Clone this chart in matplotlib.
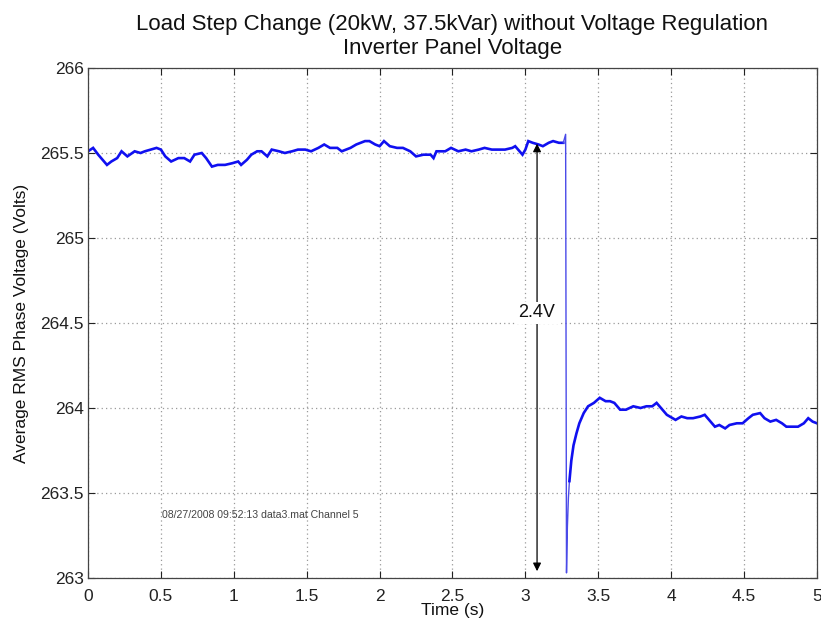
import matplotlib
matplotlib.use("Agg")
import matplotlib.pyplot as plt

plt.rcParams["font.family"] = ["Liberation Sans", "DejaVu Sans"]

# Panel voltage before the load step (time s, volts)
t_before = [0.00, 0.035, 0.07, 0.13, 0.16, 0.20, 0.23, 0.27, 0.32, 0.36, 0.39, 0.43,
            0.47, 0.50, 0.53, 0.57, 0.62, 0.66, 0.70, 0.73, 0.78, 0.81, 0.85, 0.89,
            0.94, 0.99, 1.03, 1.05, 1.09, 1.12, 1.16, 1.19, 1.23, 1.26, 1.31, 1.35,
            1.40, 1.44, 1.49, 1.53, 1.58, 1.62, 1.66, 1.71, 1.74, 1.80, 1.84, 1.90,
            1.93, 1.97, 2.00, 2.03, 2.07, 2.12, 2.16, 2.21, 2.25, 2.30, 2.35, 2.37,
            2.39, 2.45, 2.49, 2.54, 2.59, 2.63, 2.68, 2.72, 2.77, 2.81, 2.86, 2.91,
            2.93, 2.95, 2.98, 3.00, 3.02, 3.05, 3.09, 3.12, 3.16, 3.19, 3.23, 3.26]
v_before = [265.51, 265.53, 265.49, 265.43, 265.45, 265.47, 265.51, 265.48, 265.51, 265.50,
            265.51, 265.52, 265.53, 265.52, 265.48, 265.45, 265.47, 265.47, 265.45, 265.49,
            265.50, 265.47, 265.42, 265.43, 265.43, 265.44, 265.45, 265.43, 265.46, 265.49,
            265.51, 265.51, 265.48, 265.52, 265.51, 265.50, 265.51, 265.52, 265.52, 265.51,
            265.53, 265.55, 265.53, 265.53, 265.51, 265.53, 265.55, 265.57, 265.57, 265.55,
            265.54, 265.57, 265.54, 265.53, 265.53, 265.51, 265.48, 265.49, 265.49, 265.47,
            265.51, 265.51, 265.53, 265.51, 265.52, 265.51, 265.52, 265.53, 265.52, 265.52,
            265.52, 265.53, 265.54, 265.52, 265.49, 265.52, 265.57, 265.56, 265.55, 265.54,
            265.56, 265.57, 265.56, 265.56]

# Fast transient right at the load step
t_step = [3.26, 3.276, 3.282, 3.288, 3.295, 3.302]
v_step = [265.56, 265.61, 263.03, 263.30, 263.47, 263.57]

# Recovery and new steady state
t_after = [3.302, 3.315, 3.33, 3.35, 3.37, 3.40, 3.43, 3.47, 3.51, 3.55, 3.58, 3.61,
           3.65, 3.69, 3.74, 3.79, 3.83, 3.87, 3.90, 3.94, 3.97, 4.03, 4.07, 4.11,
           4.15, 4.20, 4.23, 4.27, 4.30, 4.33, 4.37, 4.40, 4.45, 4.49, 4.53, 4.56,
           4.61, 4.64, 4.68, 4.72, 4.76, 4.79, 4.84, 4.87, 4.91, 4.94, 4.97, 5.00]
v_after = [263.57, 263.69, 263.78, 263.85, 263.91, 263.97, 264.01, 264.03, 264.06, 264.04,
           264.04, 264.03, 263.99, 263.99, 264.01, 264.00, 264.01, 264.01, 264.03, 263.99,
           263.96, 263.93, 263.95, 263.94, 263.94, 263.95, 263.96, 263.92, 263.89, 263.90,
           263.88, 263.90, 263.91, 263.91, 263.94, 263.96, 263.97, 263.94, 263.92, 263.93,
           263.91, 263.89, 263.89, 263.89, 263.91, 263.94, 263.92, 263.91]

x_ticks = [0, 0.5, 1, 1.5, 2, 2.5, 3, 3.5, 4, 4.5, 5]
x_tick_labels = ["0", "0.5", "1", "1.5", "2", "2.5", "3", "3.5", "4", "4.5", "5"]
y_ticks = [263, 263.5, 264, 264.5, 265, 265.5, 266]
y_tick_labels = ["263", "263.5", "264", "264.5", "265", "265.5", "266"]

# Voltage drop annotation
drop_x = 3.08
drop_top = 265.555
drop_bottom = 263.04
drop_label = "2.4V"
drop_label_y = 264.56

stamp = "08/27/2008 09:52:13 data3.mat Channel 5"

fig = plt.figure(figsize=(8.21, 6.29), dpi=100)
ax = fig.add_axes([0.1072, 0.0811, 0.8879, 0.8108])

line_blue = "#1010f0"
ax.plot(t_before, v_before, color=line_blue, lw=1.9, solid_joinstyle="miter")
ax.plot(t_step, v_step, color="#4a4ae8", lw=1.0)
ax.plot(t_after, v_after, color=line_blue, lw=1.9, solid_joinstyle="miter")

ax.set_xlim(0, 5)
ax.set_ylim(263, 266)
ax.set_xticks(x_ticks)
ax.set_xticklabels(x_tick_labels)
ax.set_yticks(y_ticks)
ax.set_yticklabels(y_tick_labels)

ax.grid(True, linestyle=(0, (1, 2.5)), color="#9a9a9a", lw=0.9)
ax.tick_params(direction="in", length=5, width=0.8, top=True, right=True,
               labelsize=12.5, colors="#222222")
ax.tick_params(axis="x", pad=8)
ax.tick_params(axis="y", pad=3)
for sp in ax.spines.values():
    sp.set_color("#444444")
    sp.set_linewidth(0.9)

ax.annotate("", xy=(drop_x, drop_top), xytext=(drop_x, drop_bottom),
            arrowprops=dict(arrowstyle="<|-|>", color="black", lw=0.9,
                            mutation_scale=12, shrinkA=0, shrinkB=0))
ax.text(drop_x, drop_label_y, drop_label, ha="center", va="center", fontsize=13,
        color="#111111", bbox=dict(facecolor="white", edgecolor="none", pad=2))

ax.text(0.51, 263.37, stamp, fontsize=7.6, color="#444444", ha="left", va="center")

ax.set_xlabel("Time (s)", fontsize=12.5, labelpad=-1, color="#111111")
ax.set_ylabel("Average RMS Phase Voltage (Volts)", fontsize=12.5, labelpad=8, color="#111111")
ax.set_title("Load Step Change (20kW, 37.5kVar) without Voltage Regulation\nInverter Panel Voltage",
             fontsize=16, pad=10, color="#111111", linespacing=1.2)

fig.savefig("out.png", dpi=100)
